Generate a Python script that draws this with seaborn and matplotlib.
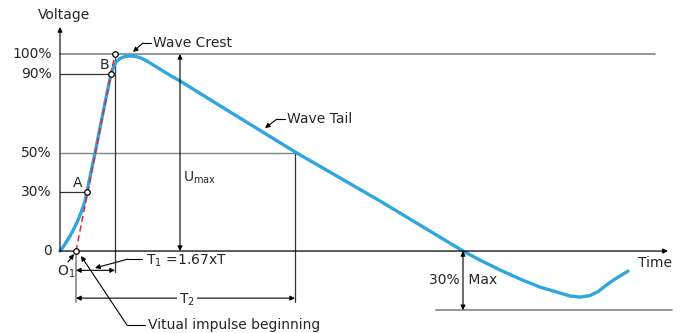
import numpy as np
import pandas as pd
from matplotlib import pyplot as plt
import seaborn as sns

# impulse wave (time in arbitrary units, voltage in % of max)
wave_t = [0.0, 0.3, 0.6, 1.0, 1.4, 1.8, 2.2, 2.5, 2.7, 3.1, 3.5, 3.9, 4.3, 4.7, 5.1,
          5.3, 5.6, 6.0, 6.5, 7.0, 7.5, 8.0, 8.7, 9.5, 10.7, 12.0, 17.0, 23.5, 32.0,
          40.3, 42.0, 44.0, 46.0, 48.0, 50.0, 51.0, 52.0, 53.0, 53.8, 54.5, 55.5, 56.8]
wave_v = [0.0, 2.0, 4.3, 7.6, 11.4, 15.7, 20.8, 25.4, 30.0, 40.1, 49.7, 59.9, 70.1, 80.2, 89.8,
          92.9, 95.9, 97.7, 98.7, 99.0, 98.8, 98.2, 96.4, 93.9, 90.1, 86.3, 70.6, 50.3, 25.4,
          0.0, -4.6, -9.6, -14.2, -18.3, -21.3, -22.8, -23.4, -22.6, -20.6, -17.8, -14.2, -10.2]

levels = [100, 90, 50, 30, 0]
level_labels = ['100%', '90%', '50%', '30%', '0']

t_o1 = 1.6       # virtual origin
t_a, t_b = 2.7, 5.1
t_crest = 5.5    # front line reaches 100%
t_half = 23.5    # tail at 50%
t_zero = 40.3    # tail crosses zero
t_umax = 12.0

blue = '#2ea6df'
red = '#e3262b'
dark = '#333333'
grey = '#858585'

sns.set_style('white')
plt.rcParams['font.family'] = ['DejaVu Sans']

fig = plt.figure(figsize=(6.82, 3.33), dpi=100)
ax = fig.add_axes([0, 0, 1, 1])
ax.set_xlim(-6, 62.2)
ax.set_ylim(-41.6, 127.4)
ax.axis('off')

fs = 10


def arrow(x0, y0, x1, y1, style='-|>', color='k', lw=0.8):
    ax.annotate('', xy=(x1, y1), xytext=(x0, y0),
                arrowprops=dict(arrowstyle=style, color=color, lw=lw,
                                mutation_scale=7, shrinkA=0, shrinkB=0))


# reference lines
ax.plot([0, 59.5], [100, 100], color=grey, lw=1.2)
ax.plot([37.6, 61.2], [-30, -30], color=grey, lw=1.2)
ax.plot([0, t_b], [90, 90], color=dark, lw=0.9)
ax.plot([0, t_half], [50, 50], color=grey, lw=1.0)
ax.plot([0, t_a], [30, 30], color=dark, lw=0.9)
ax.plot([t_crest, t_crest], [100, -10.7], color=dark, lw=0.9)
ax.plot([t_half, t_half], [50, -25.9], color=dark, lw=0.9)
ax.plot([t_o1, t_o1], [0, -25.9], color=grey, lw=1.2)

# axes with arrows
arrow(0, 0, 0, 113.7)
arrow(0, 0, 60.8, 0, lw=0.9)

# the wave, with the front line drawn over it
df = pd.DataFrame({'t': wave_t, 'v': wave_v})
sns.lineplot(data=df, x='t', y='v', sort=False, color=blue, lw=2.4, ax=ax,
             solid_capstyle='round', solid_joinstyle='round')
ax.plot([t_o1, t_crest], [0, 100], color=red, lw=1.1, dashes=(4, 2.5), zorder=4)
ax.plot([t_o1, t_a, t_b, t_crest], [0, 30, 90, 100], 'o', ms=4,
        mfc='white', mec='k', mew=0.9, zorder=5)

# level labels
for lv, lab in zip(levels, level_labels):
    ax.text(-0.8, lv, lab, ha='right', va='center', fontsize=fs)
ax.text(0.4, 119.8, 'Voltage', ha='center', va='center', fontsize=fs)
ax.text(59.5, -6.1, 'Time', ha='center', va='center', fontsize=fs)
ax.text(1.8, 34.5, 'A', ha='center', va='center', fontsize=fs)
ax.text(4.4, 94.4, 'B', ha='center', va='center', fontsize=fs)
ax.text(0.6, -10.5, r'O$_\mathregular{1}$', ha='center', va='center', fontsize=fs)
arrow(0.8, -5.6, 1.4, -1.5)

# dimensions
arrow(t_umax, 0, t_umax, 100, style='<|-|>')
ax.text(12.3, 37, r'U$_\mathregular{max}$', ha='left', va='center', fontsize=fs)
arrow(t_o1, -9.8, t_crest, -9.8, style='<|-|>')
arrow(t_o1, -23.9, t_half, -23.9, style='<|-|>')
ax.text(12.7, -24.5, r'T$_\mathregular{2}$', ha='center', va='center', fontsize=fs,
        bbox=dict(fc='white', ec='none', pad=1.5))
arrow(t_zero, 0, t_zero, -30, style='<|-|>')
ax.text(t_zero, -14.7, '30%  Max', ha='center', va='center', fontsize=fs)

# callouts
ax.text(9.3, 105.6, 'Wave Crest', ha='left', va='center', fontsize=fs)
ax.plot([9.1, 8.3], [105.6, 105.6], color='k', lw=0.8)
arrow(8.3, 105.6, 7.3, 101)
ax.text(22.7, 67, 'Wave Tail', ha='left', va='center', fontsize=fs)
ax.plot([22.5, 21.7], [67, 67], color='k', lw=0.8)
arrow(21.7, 67, 20.5, 62.4)
ax.text(8.6, -5.1, r'T$_\mathregular{1}$ =1.67xT', ha='left', va='center', fontsize=fs)
ax.plot([8.2, 6.8], [-4.1, -4.1], color='k', lw=0.8)
arrow(6.8, -4.1, 3.5, -8.6)
ax.text(8.8, -37.6, 'Vitual impulse beginning', ha='left', va='center', fontsize=fs)
ax.plot([8.5, 6.7], [-37.6, -37.6], color='k', lw=0.8)
arrow(6.7, -37.6, 2.1, -2.5)

fig.savefig('out.png', dpi=100, facecolor='white')
